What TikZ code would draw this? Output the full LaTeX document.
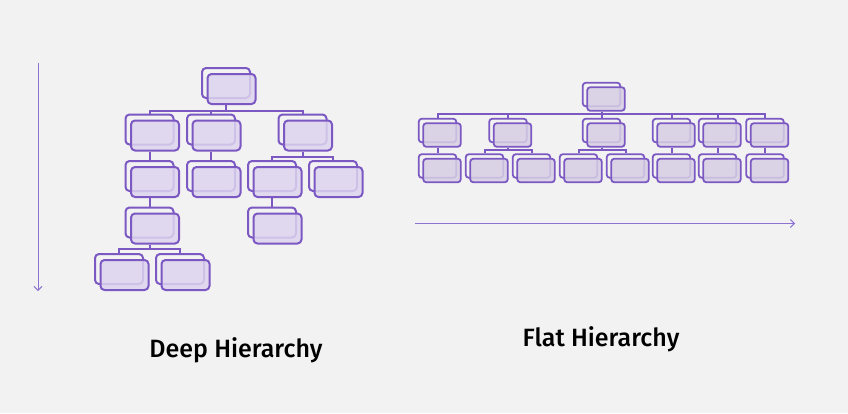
\documentclass[tikz,border=0pt]{standalone}
\usepackage{fontspec}
\newfontfamily\lblfont{Fira Sans Medium}
\usetikzlibrary{arrows.meta,calc}
\definecolor{bg}{HTML}{F2F2F2}
\definecolor{pline}{HTML}{7B58C2}
\definecolor{pfill}{HTML}{DDD4EE}
\definecolor{pfillflat}{HTML}{D6CEE5}
\definecolor{parrow}{HTML}{8D72D2}
\pgfdeclarelayer{bgl}
\pgfdeclarelayer{connl}
\pgfsetlayers{bgl,connl,main}
\tikzset{
  deepback/.style={draw=pline, line width=2pt, rounded corners=4pt, minimum width=48pt, minimum height=30pt, inner sep=0pt},
  deepfront/.style={deepback, fill=pfill, fill opacity=0.85},
  flatback/.style={draw=pline, line width=1.8pt, rounded corners=3pt, minimum width=37.5pt, minimum height=23.5pt, inner sep=0pt},
  flatfront/.style={flatback, fill=pfillflat, fill opacity=0.85},
  conn/.style={draw=pline, line width=2pt},
  arr/.style={draw=parrow, line width=1pt, -{Straight Barb[length=4pt,width=8pt,line width=1pt]}},
  lbl/.style={font=\lblfont\fontsize{25}{29}\selectfont, text=black, inner sep=0pt, anchor=base}
}
\newcommand\dbox[3]{%
  \node[deepback] (#1-b) at (#2,#3) {};
  \node[deepfront] (#1) at ($(#1-b)+(5.5,6)$) {};}
\newcommand\flbox[3]{%
  \node[flatback] (#1-b) at (#2,#3) {};
  \node[flatfront] (#1) at ($(#1-b)+(4.5,4.5)$) {};}
\newcommand\hlink[3]{%
  \begin{pgfonlayer}{connl}
  \draw[conn] (#1-b.south |- #1.south) |- ($(#2-b.north)+(0,-#3)$) -- (#2-b.north);
  \end{pgfonlayer}}
\begin{document}
\begin{tikzpicture}[x=1pt,y=-1pt]
\begin{pgfonlayer}{bgl}
\fill[bg] (0,0) rectangle (848,413);
\end{pgfonlayer}
\useasboundingbox (0,0) rectangle (848,413);
% Deep hierarchy
\dbox{r}{226}{83}
\dbox{a}{149.5}{129.5}
\dbox{b}{211}{129.5}
\dbox{c}{302.5}{129.5}
\dbox{a1}{149.5}{176}
\dbox{b1}{211}{176}
\dbox{c1}{272}{176}
\dbox{c2}{333}{176}
\dbox{a2}{149.5}{222.5}
\dbox{c1a}{272}{222.5}
\dbox{d1}{119}{269}
\dbox{d2}{180}{269}
\hlink{r}{a}{3}
\hlink{r}{b}{3}
\hlink{r}{c}{3}
\hlink{a}{a1}{3}
\hlink{b}{b1}{3}
\hlink{c}{c1}{3}
\hlink{c}{c2}{3}
\hlink{a1}{a2}{3}
\hlink{c1}{c1a}{3}
\hlink{a2}{d1}{4}
\hlink{a2}{d2}{4}
% Flat hierarchy
\flbox{fr}{601.5}{94.5}
\flbox{l1}{437.5}{130.5}
\flbox{l2}{508}{130.5}
\flbox{l3}{601.5}{130.5}
\flbox{l4}{671.5}{130.5}
\flbox{l5}{717.5}{130.5}
\flbox{l6}{765}{130.5}
\flbox{l1a}{437.5}{166}
\flbox{m1}{484.5}{166}
\flbox{m2}{531.5}{166}
\flbox{n1}{578.5}{166}
\flbox{n2}{625.5}{166}
\flbox{l4a}{671.5}{166}
\flbox{l5a}{717.5}{166}
\flbox{l6a}{765}{166}
\hlink{fr}{l1}{4}
\hlink{fr}{l2}{4}
\hlink{fr}{l3}{4}
\hlink{fr}{l4}{4}
\hlink{fr}{l5}{4}
\hlink{fr}{l6}{4}
\hlink{l1}{l1a}{3}
\hlink{l2}{m1}{3}
\hlink{l2}{m2}{3}
\hlink{l3}{n1}{3}
\hlink{l3}{n2}{3}
\hlink{l4}{l4a}{3}
\hlink{l5}{l5a}{3}
\hlink{l6}{l6a}{3}
% Arrows
\coordinate (v1) at (38,63);
\coordinate (v2) at (38,291);
\draw[arr] (v1) -- (v2);
\coordinate (h1) at (415,223.5);
\coordinate (h2) at (795,223.5);
\draw[arr] (h1) -- (h2);
% Labels
\node[lbl] (t1) at (236,357) {Deep Hierarchy};
\node[lbl] (t2) at (601,346) {Flat Hierarchy};
\end{tikzpicture}
\end{document}
